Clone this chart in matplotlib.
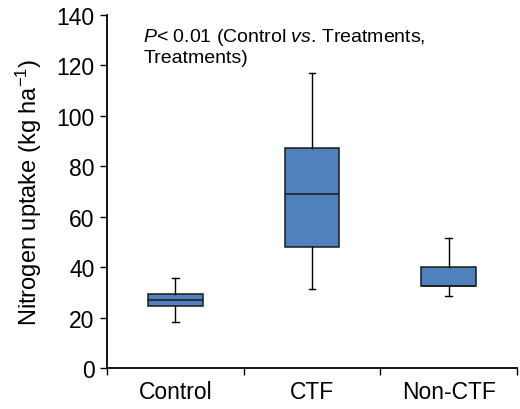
import matplotlib
matplotlib.use("Agg")
import matplotlib.pyplot as plt
from matplotlib.ticker import FixedLocator, NullFormatter

plt.rcParams['font.family'] = ['Liberation Sans', 'DejaVu Sans']
plt.rcParams['mathtext.fontset'] = 'custom'
plt.rcParams['mathtext.rm'] = 'Liberation Sans'
plt.rcParams['mathtext.it'] = 'Liberation Sans:italic'
plt.rcParams['mathtext.bf'] = 'Liberation Sans:bold'

categories = ["Control", "CTF", "Non-CTF"]
whisker_low = [18.3, 31.5, 28.6]
q1 = [24.7, 47.9, 32.4]
median = [27.0, 69.0, 32.6]
q3 = [29.2, 87.2, 40.0]
whisker_high = [35.7, 116.8, 51.6]

fig = plt.figure(figsize=(5.2, 4.1), dpi=100)
ax = fig.add_axes([0.206, 0.100, 0.788, 0.861])

stats = []
for i, name in enumerate(categories):
    stats.append(dict(label=name, whislo=whisker_low[i], q1=q1[i], med=median[i],
                      q3=q3[i], whishi=whisker_high[i], fliers=[]))

ax.bxp(stats, positions=[1, 2, 3], widths=0.4, patch_artist=True, showfliers=False,
       boxprops=dict(facecolor="#4F81BD", edgecolor="#1a1a1a", linewidth=1.1),
       medianprops=dict(color="#1a1a1a", linewidth=1.1),
       whiskerprops=dict(color="black", linewidth=1.0),
       capprops=dict(color="black", linewidth=1.0),
       capwidths=0.05)

ax.set_xlim(0.5, 3.5)
ax.set_ylim(0, 140)
ax.set_yticks(range(0, 141, 20))
ax.tick_params(axis='y', labelsize=16.5, length=5, width=1.0, direction='out', pad=4)

ax.xaxis.set_major_locator(FixedLocator([0.5, 1.5, 2.5, 3.5]))
ax.xaxis.set_major_formatter(NullFormatter())
ax.xaxis.set_minor_locator(FixedLocator([1, 2, 3]))
ax.set_xticklabels(categories, minor=True)
ax.tick_params(axis='x', which='major', length=5, width=1.0, direction='out')
ax.tick_params(axis='x', which='minor', length=0, labelsize=16.5, pad=9)

for side in ['top', 'right']:
    ax.spines[side].set_visible(False)
for side in ['left', 'bottom']:
    ax.spines[side].set_linewidth(1.3)

ax.set_ylabel("Nitrogen uptake (kg ha$^{-1}$)", fontsize=17, labelpad=9)

ax.text(0.088, 0.97, "$\\it{P}$< 0.01 (Control $\\it{vs}$. Treatments,\nTreatments)",
        transform=ax.transAxes, fontsize=14, va='top', ha='left', linespacing=1.2)

fig.savefig("out.png", dpi=100)
